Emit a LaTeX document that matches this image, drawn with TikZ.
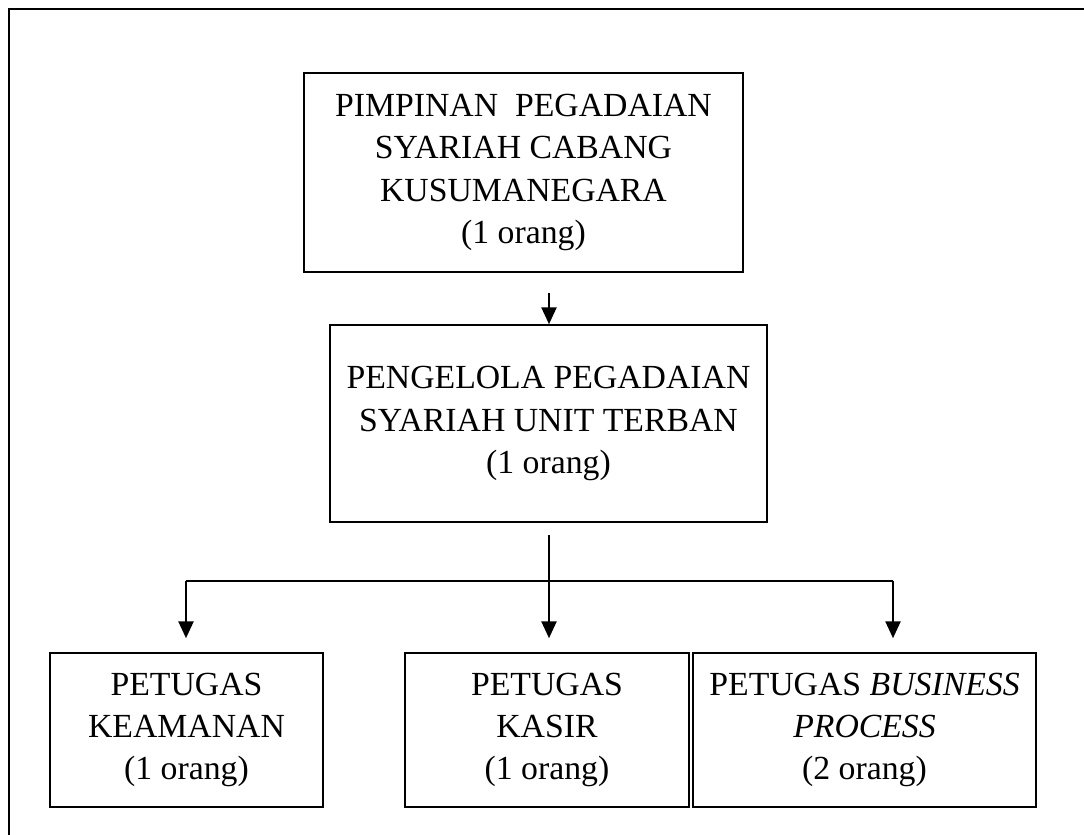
\documentclass[tikz,border=0pt]{standalone}
\usepackage{fontspec}
\setmainfont{Liberation Serif}
\usepackage{tikz}
\usetikzlibrary{arrows.meta,positioning,calc}

\begin{document}
\begin{tikzpicture}[font=\fontsize{24}{30}\selectfont,
  unitbox/.style={draw, line width=1.2pt, align=center, inner sep=0pt},
  arr/.style={line width=1.2pt, -{Triangle[length=0.42cm,width=0.38cm]}}]
  \useasboundingbox (0,0) rectangle (27.1,20.875);
  % outer frame (cut off at right and bottom)
  \draw[line width=1.4pt] (0.225,0) -- (0.225,20.65) -- (27.1,20.65);
  % boxes
  \node[unitbox, minimum width=10.975cm, minimum height=4.975cm] (pimpinan) at (13.0875,16.5625)
    {PIMPINAN\ \ PEGADAIAN\\SYARIAH CABANG\\KUSUMANEGARA\\(1 orang)};
  \node[unitbox, minimum width=10.925cm, minimum height=4.925cm] (pengelola) at (13.7125,10.2875)
    {PENGELOLA PEGADAIAN\\SYARIAH UNIT TERBAN\\(1 orang)};
  \node[unitbox, minimum width=6.825cm, minimum height=3.85cm] (keamanan) at (4.6625,2.625)
    {PETUGAS\\KEAMANAN\\(1 orang)};
  \node[unitbox, minimum width=7.1cm, minimum height=3.85cm] (kasir) at (13.675,2.625)
    {PETUGAS\\KASIR\\(1 orang)};
  \node[unitbox, minimum width=8.575cm, minimum height=3.85cm] (bproc) at (21.6125,2.625)
    {PETUGAS \textit{BUSINESS}\\\textit{PROCESS}\\(2 orang)};
  % connectors
  \coordinate (a1) at (13.725,13.55);
  \draw[arr] (a1) -- (a1 |- pengelola.north);
  \coordinate (m0) at (13.725,7.5);
  \coordinate (bar) at (13.725,6.35);
  \coordinate (tk) at (4.65,6.35);
  \coordinate (tb) at (22.325,6.35);
  \draw[line width=1.2pt] (m0) -- (bar);
  \draw[line width=1.2pt] (tk) -- (tb);
  \draw[arr, shorten >=0.35cm] (tk) -- (tk |- keamanan.north);
  \draw[arr, shorten >=0.35cm] (bar) -- (bar |- kasir.north);
  \draw[arr, shorten >=0.35cm] (tb) -- (tb |- bproc.north);
\end{tikzpicture}
\end{document}
